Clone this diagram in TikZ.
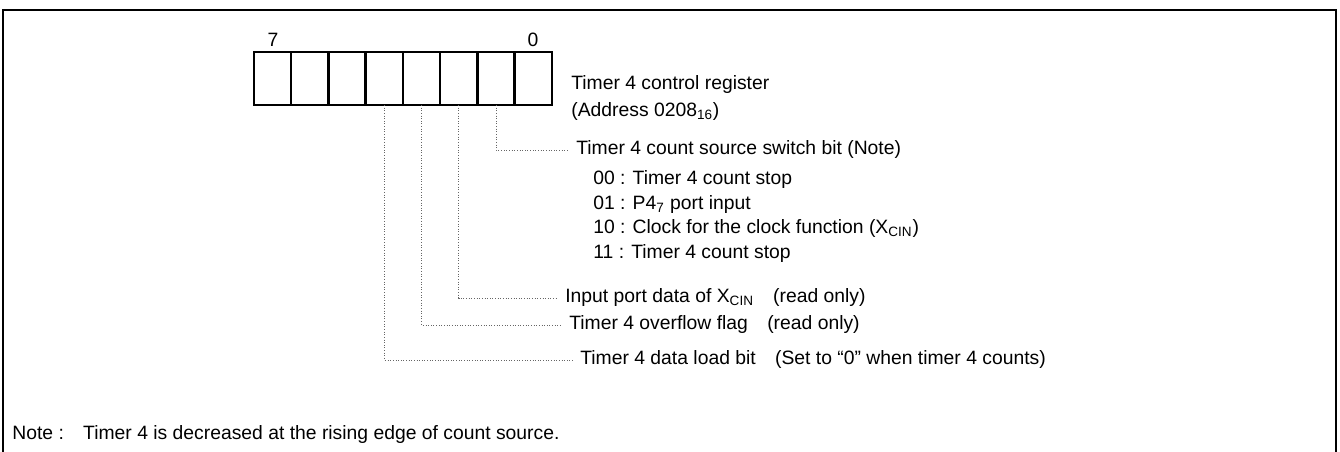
\documentclass[tikz,border=0pt]{standalone}
\usepackage{fontspec}
\setmainfont{Liberation Sans}
\usetikzlibrary{positioning}
\tikzstyle{bitcell} = [draw, line width=1.4pt, minimum width=0.745cm, minimum height=1.06cm, inner sep=0, outer sep=0]
\tikzstyle{txt} = [anchor=west, inner sep=0, font=\fontsize{11}{13}\selectfont]
\tikzstyle{bitno} = [inner sep=0, font=\fontsize{11}{13}\selectfont]
\tikzstyle{leader} = [densely dotted, line width=0.5pt, black!60, shorten >=4pt]

\begin{document}
\begin{tikzpicture}[x=0.02cm, y=-0.02cm]
    \useasboundingbox (0,0) rectangle (1340,452);
    \draw[line width=1.3pt] (3,452) -- (3,10) -- (1336,10) -- (1336,452);

    % register cells, bit 7 on the left
    \node[bitcell] (b7) at (272.6,78.5) {};
    \node[bitcell, right=0pt of b7] (b6) {};
    \node[bitcell, right=0pt of b6] (b5) {};
    \node[bitcell, right=0pt of b5] (b4) {};
    \node[bitcell, right=0pt of b4] (b3) {};
    \node[bitcell, right=0pt of b3] (b2) {};
    \node[bitcell, right=0pt of b2] (b1) {};
    \node[bitcell, right=0pt of b1] (b0) {};
    \node[bitno] (n7) at (273,40) {7};
    \node[bitno] (n0) at (533,40) {0};

    \node[txt] (regname) at (571,85) {Timer 4 control register};
    \node[txt] (regaddr) at (571,112) {(Address 0208\textsubscript{16})};

    % bit descriptions
    \node[txt] (src) at (576,150) {Timer 4 count source switch bit (Note)};
    \node[txt] (opt00) at (593,180) {00 : Timer 4 count stop};
    \node[txt] (opt01) at (593,205) {01 : P4\textsubscript{7} port input};
    \node[txt] (opt10) at (593,229) {10 : Clock for the clock function (X\textsubscript{CIN})};
    \node[txt] (opt11) at (593,254) {11 : Timer 4 count stop};
    \node[txt] (xcin) at (565,298) {Input port data of X\textsubscript{CIN}\quad(read only)};
    \node[txt] (ovf) at (569,325) {Timer 4 overflow flag\quad(read only)};
    \node[txt] (load) at (580,360) {Timer 4 data load bit\quad(Set to ``0'' when timer 4 counts)};

    \draw[leader] (b1.south) |- (src.west);
    \draw[leader] (b2.south) |- (xcin.west);
    \draw[leader] (b3.south) |- (ovf.west);
    \draw[leader] (b4.south) |- (load.west);

    \node[txt] (note) at (12,435) {Note :\quad Timer 4 is decreased at the rising edge of count source.};
\end{tikzpicture}
\end{document}
